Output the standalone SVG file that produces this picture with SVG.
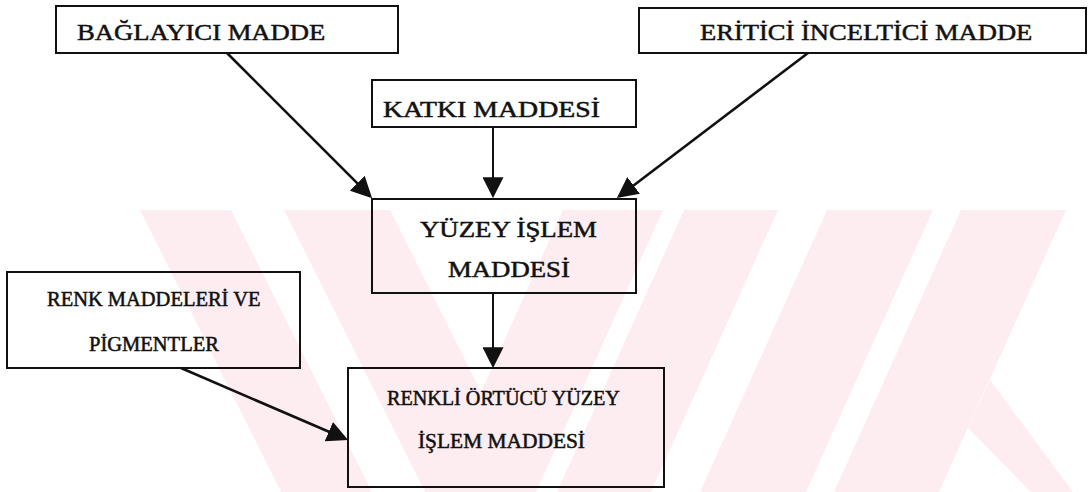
<svg xmlns="http://www.w3.org/2000/svg" width="1090" height="492" viewBox="0 0 1090 492">
<style>
.bg{fill:#ffffff}
.wm{fill:#fdedf0}
.box{fill:none;stroke:#111;stroke-width:2}
.t{font-family:"Liberation Serif","Times New Roman",serif;fill:#111;stroke:#111;stroke-width:0.5}
.big{font-size:24px}
.mid{font-size:23px}
.sm{font-size:20px}
.conn{stroke:#111;fill:none;stroke-linecap:butt}
</style>
<defs>
<marker id="arr" viewBox="0 0 20 20" refX="17" refY="10" markerWidth="21" markerHeight="21" markerUnits="userSpaceOnUse" orient="auto">
<path d="M0,0 L20,10 L0,20 z" fill="#111"/>
</marker>
</defs>
<rect class="bg" x="0" y="0" width="1090" height="492"/>
<g id="watermark">
<polygon class="wm" points="140,210 231,210 372,492 281,492"/>
<polygon class="wm" points="284,210 390,210 531,492 425,492"/>
<polygon class="wm" points="563,210 663,210 536,492 436,492"/>
<polygon class="wm" points="684,210 778,210 651,492 557,492"/>
<polygon class="wm" points="827,210 933,210 806,492 700,492"/>
<polygon class="wm" points="961,210 1066,210 939,492 834,492"/>
<polygon class="wm" points="968,428 990,380 1073,492 1031,492"/>
</g>
<g id="connectors">
<line class="conn" x1="227" y1="53" x2="369.9" y2="195.9" stroke-width="2.6" marker-end="url(#arr)"/>
<line class="conn" x1="493" y1="127" x2="493" y2="195" stroke-width="2" marker-end="url(#arr)"/>
<line class="conn" x1="808" y1="53" x2="619.4" y2="196.2" stroke-width="2.6" marker-end="url(#arr)"/>
<line class="conn" x1="493" y1="293" x2="493" y2="365" stroke-width="2" marker-end="url(#arr)"/>
<line class="conn" x1="181" y1="368" x2="345.2" y2="438.8" stroke-width="2.6" marker-end="url(#arr)"/>
</g>
<g id="baglayici">
<rect class="box" x="56" y="6" width="342" height="47"/>
<text class="t big" transform="translate(77,40) scale(1.11,1)">BAĞLAYICI MADDE</text>
</g>
<g id="eritici">
<rect class="box" x="639" y="8" width="447" height="45"/>
<text class="t big" transform="translate(700,40) scale(1.107,1)">ERİTİCİ İNCELTİCİ MADDE</text>
</g>
<g id="katki">
<rect class="box" x="372" y="80" width="264" height="47"/>
<text class="t mid" transform="translate(383,117) scale(1.209,1)">KATKI MADDESİ</text>
</g>
<g id="yuzey">
<rect class="box" x="372" y="199" width="264" height="94"/>
<text class="t mid" transform="translate(420,237) scale(1.166,1)">YÜZEY İŞLEM</text>
<text class="t mid" transform="translate(448,277) scale(1.164,1)">MADDESİ</text>
</g>
<g id="renk">
<rect class="box" x="7" y="272" width="293" height="96"/>
<text class="t sm" transform="translate(47,306) scale(1.024,1)">RENK MADDELERİ VE</text>
<text class="t sm" transform="translate(89,351) scale(1.026,1)">PİGMENTLER</text>
</g>
<g id="renkli">
<rect class="box" x="348" y="368" width="316" height="119"/>
<text class="t sm" transform="translate(387,405) scale(1.007,1)">RENKLİ ÖRTÜCÜ YÜZEY</text>
<text class="t sm" transform="translate(418,448) scale(1.07,1)">İŞLEM MADDESİ</text>
</g>
</svg>
